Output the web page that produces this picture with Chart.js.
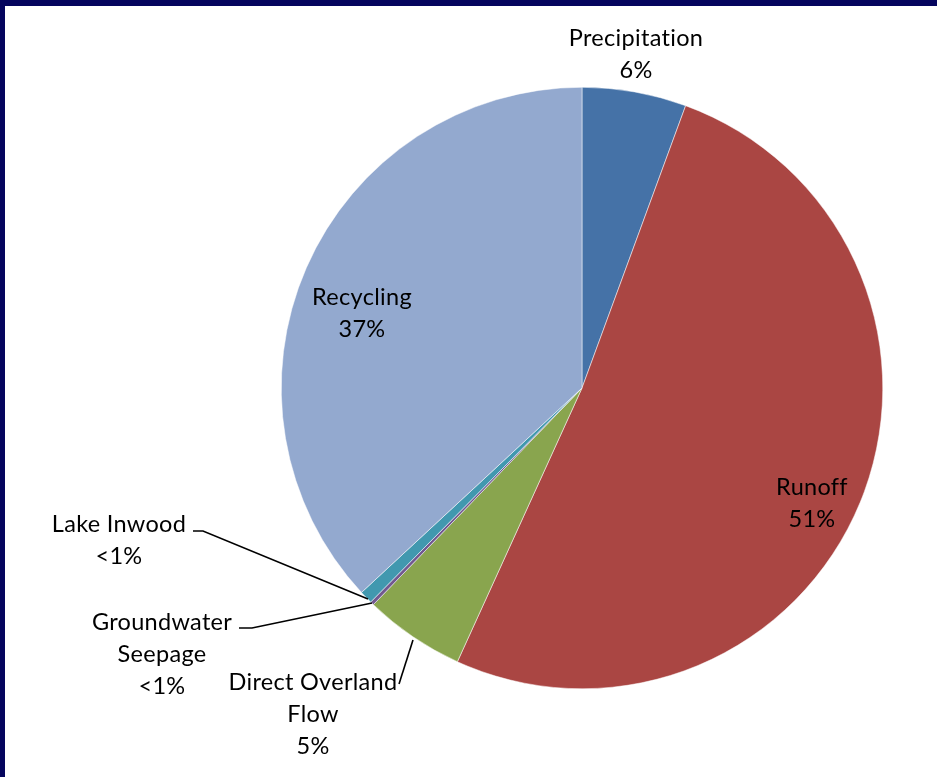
<!DOCTYPE html>
<html>
<head>
<meta charset="utf-8">
<script src="https://cdn.jsdelivr.net/npm/chart.js@4"></script>
<style>
  html, body { margin: 0; padding: 0; background: #fff; }
  #frame {
    width: 937px; height: 777px; box-sizing: border-box;
    border-top: 6px solid #05055e; border-left: 5px solid #05055e;
    background: #fff;
  }
  #wrap { width: 932px; height: 771px; }
</style>
</head>
<body>
<div id="frame"><div id="wrap"><canvas id="myChart"></canvas></div></div>
<script>
// Données
const categories = ['Precipitation', 'Runoff', 'Direct Overland Flow', 'Groundwater Seepage', 'Lake Inwood', 'Recycling'];
const shares = [5.6, 51.2, 5.4, 0.2, 0.7, 36.9];
const shareLabels = ['6%', '51%', '5%', '<1%', '<1%', '37%'];
const colors = ['#4572A7', '#AA4643', '#89A54E', '#71588F', '#4198AF', '#93A9CF'];

// Libellés : lignes de texte, position et ligne de rappel (en px du canvas)
const labelLines = [
    ['Precipitation', '6%'],
    ['Runoff', '51%'],
    ['Direct Overland', 'Flow', '5%'],
    ['Groundwater', 'Seepage', '<1%'],
    ['Lake Inwood', '<1%'],
    ['Recycling', '37%']
];
const labelPos = [
    [631, 32], [807, 481], [308, 676], [157, 616], [114, 518], [357, 291]
];
// leader : points depuis le texte jusqu'au bord de la part
const leaders = [
    null, null,
    [[394, 678], [408, 634]],
    [[234, 622], [247, 622], [367, 597]],
    [[188, 525], [198, 525], [363, 593]],
    null
];

const labelPlugin = {
    id: 'pieLabels',
    afterDatasetsDraw(chart) {
        const ctx = chart.ctx;
        ctx.save();
        ctx.font = '23.5px Lato, "Open Sans", sans-serif';
        ctx.letterSpacing = '0.3px';
        ctx.fillStyle = '#000';
        ctx.textAlign = 'center';
        ctx.textBaseline = 'middle';
        labelLines.forEach((lines, i) => {
            const [x, y] = labelPos[i];
            const all = lines.slice(0, lines.length - 1).concat([shareLabels[i]]);
            all.forEach((t, k) => ctx.fillText(t, x, y + k * 32));
        });
        ctx.strokeStyle = '#000';
        ctx.lineWidth = 1.6;
        leaders.forEach(l => {
            if (!l) return;
            ctx.beginPath();
            ctx.moveTo(l[0][0], l[0][1]);
            for (let k = 1; k < l.length; k++) ctx.lineTo(l[k][0], l[k][1]);
            ctx.stroke();
        });
        ctx.restore();
    }
};

const data = {
    labels: categories,
    datasets: [{
        data: shares,
        backgroundColor: colors,
        borderColor: '#ffffff',
        borderWidth: 0.5,
    }]
};

const config = {
    type: 'pie',
    data: data,
    options: {
        responsive: true,
        maintainAspectRatio: false,
        animation: false,
        layout: {
            padding: { left: 276, right: 54, top: 81, bottom: 88 }
        },
        plugins: {
            legend: { display: false },
            tooltip: { enabled: false },
        }
    },
    plugins: [labelPlugin]
};

var myChart = new Chart(
    document.getElementById('myChart'),
    config
);
</script>
</body>
</html>
